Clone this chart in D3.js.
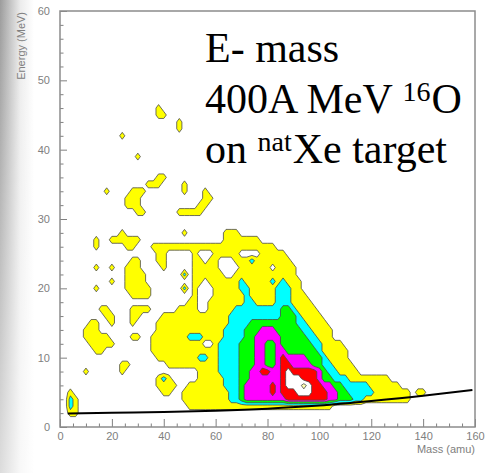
<!DOCTYPE html>
<html>
<head>
<meta charset="utf-8">
<script src="https://cdn.jsdelivr.net/npm/d3@7"></script>
<style>
  body { margin: 0; background: #fff; }
</style>
</head>
<body>
<div id="vis"></div>
<script>
// axis ticks
const massTicks = [0, 20, 40, 60, 80, 100, 120, 140, 160];
const energyTicks = [0, 10, 20, 30, 40, 50, 60];

// contour grid: one row per MeV (47 at the top down to 0),
// one column per 2 amu starting at 0. digit = contour level reached
// (0 none, 1 yellow, 2 cyan, 3 green, 4 magenta, 5 red, 6 white, 7 pale)
const gridTopE = 47;
const gridStepM = 2;
const gridRows = [
  "0",
  "0000000000 0000000001",
  "0000000000 0000000001 1",
  "0000000000 0000000000 0001",
  "0000000000 0000000000 0001",
  "0000000000 001",
  "0",
  "0",
  "0000000000 000001",
  "0",
  "0",
  "0000000000 0000000001 1",
  "0000000000 0000000111 00001",
  "0000000001 0000111000 0000100010",
  "0000000000 0001110000 0000000011",
  "0000000000 0001110000 0000000110",
  "0000000000 0000011000 0001111100",
  "0",
  "0",
  "0000000000 0010000000 0000100000 0011100000",
  "0000000100 1111110000 0000000000 0011111110",
  "0000000100 0001100011 1111111111 1111111111 11",
  "0000000000 0000000001 1000001000 1111100001 1111",
  "0000000000 0000110001 1000001101 1000111211 11111",
  "0000000100 1001110000 1000001111 1000011111 1011110000",
  "0000000000 0001111000 0000201111 1100111111 1111110000",
  "0000000000 1001111000 0000001101 1111121111 1212111000",
  "0000000100 0001111100 0000201000 1111122111 1122211000",
  "0000000000 0000111100 0000001000 1111112111 1122211100",
  "0000000000 0000000000 0000011001 1111112211 1122211110",
  "0000000011 0000111100 0001111001 1111222222 2223321111",
  "0000000001 1000110000 1111111111 1112222222 2223332111 1",
  "0000001100 1000100001 1111111111 1112222333 3333332211 11",
  "0000011100 0000000001 1111111111 1122223334 4433333221 111",
  "0000011111 0000110011 1111122211 1122223344 4443333322 111",
  "0000001111 1000000011 1111111100 1222233344 3343333332 21111",
  "0000000110 0000000011 1111111111 1222233344 3344333333 211111",
  "0000000000 0000000001 1111111221 1222233344 3345444433 321111",
  "0000000000 0011000000 0111111111 1222233344 3345544443 3221111",
  "0000010000 0010000000 0000000111 1222233445 5445655555 43221111",
  "0000000000 0000000001 2100000111 1122233444 4445666555 4332221111 1111",
  "0000000000 0000000001 1110011111 1122234444 4545666765 5443322222 111111",
  "0010000000 0000000000 1100111111 1112234444 4545556665 5544332222 2111111101 1",
  "0021000000 0000000000 0000111111 1112234444 4444555555 5544333221 11111111",
  "0021000000 0000000000 0000011111 1111111111 1111111111 111",
  "0011",
  "0",
  "0"
];

const levelColors = ["#ffff00", "#00ffff", "#00ff00", "#ff00ff", "#ff0000", "#ffffff", "#ffffb0"];

// threshold line along the bottom of the distribution
const curveMass = [3, 20, 40, 60, 80, 100, 120, 140, 159];
const curveEnergy = [1.95, 2.05, 2.15, 2.35, 2.65, 3.1, 3.75, 4.5, 5.35];

const width = 486, height = 473;
const svg = d3.select("#vis").append("svg")
    .attr("width", width)
    .attr("height", height);

const x = d3.scaleLinear().domain([0, 160]).range([60, 475]);
const y = d3.scaleLinear().domain([0, 60]).range([427, 11]);

// grey slide edge on the left
const defs = svg.append("defs");
const lg = defs.append("linearGradient").attr("id", "edge").attr("x1", 0).attr("x2", 1);
lg.append("stop").attr("offset", 0).attr("stop-color", "#9c9c9c");
lg.append("stop").attr("offset", 0.3).attr("stop-color", "#c4c4c4");
lg.append("stop").attr("offset", 0.6).attr("stop-color", "#ececec");
lg.append("stop").attr("offset", 1).attr("stop-color", "#ffffff");
const vg = defs.append("linearGradient").attr("id", "fade").attr("x1", 0).attr("x2", 0).attr("y1", 0).attr("y2", 1);
vg.append("stop").attr("offset", 0).attr("stop-color", "#fff").attr("stop-opacity", 0);
vg.append("stop").attr("offset", 1).attr("stop-color", "#fff").attr("stop-opacity", 0.65);
svg.append("rect").attr("x", 0).attr("y", 0).attr("width", 34).attr("height", height).attr("fill", "url(#edge)");
svg.append("rect").attr("x", 0).attr("y", 0).attr("width", 34).attr("height", height).attr("fill", "url(#fade)");

// contours
const cols = 81;
const grid = gridRows.map(function(r) { return r.replace(/ /g, "").padEnd(cols, "0"); });
const values = [];
grid.forEach(function(r) { for (const ch of r) values.push(+ch); });

const contours = d3.contours()
    .size([cols, grid.length])
    .thresholds(levelColors.map(function(c, i) { return i + 0.5; }))(values);

const toPlot = d3.geoTransform({
  point: function(px, py) {
    this.stream.point(x(gridStepM * (px - 0.5)), y(gridTopE - (py - 0.5)));
  }
});
const path = d3.geoPath(toPlot);

svg.append("g").selectAll("path")
    .data(contours)
    .join("path")
    .attr("d", path)
    .attr("fill", function(d, i) { return levelColors[i]; })
    .attr("stroke", "#4a4a4a")
    .attr("stroke-width", 0.8)
    .attr("stroke-linejoin", "round");

// threshold curve
const line = d3.line()
    .x(function(d) { return x(d[0]); })
    .y(function(d) { return y(d[1]); })
    .curve(d3.curveMonotoneX);
svg.append("path")
    .datum(curveMass.map(function(m, i) { return [m, curveEnergy[i]]; }))
    .attr("d", line)
    .attr("fill", "none")
    .attr("stroke", "#000")
    .attr("stroke-width", 2);

// axes
const axisColor = "#808080";
const labelFont = "'Liberation Sans', Arial, Helvetica, sans-serif";
const yMinor = d3.range(0, 61, 2).filter(function(v) { return v % 10; });
const xMinor = d3.range(0, 161, 5).filter(function(v) { return v % 20; });

function styleAxis(g) {
  g.select(".domain").remove();
  g.selectAll("line").attr("stroke", axisColor);
  g.selectAll("text").attr("fill", axisColor).attr("font-size", 11).attr("font-family", labelFont);
}

svg.append("g").attr("transform", "translate(60,0)")
    .call(d3.axisLeft(y).tickValues(yMinor).tickSize(-3.5).tickFormat(""))
    .call(styleAxis);
svg.append("g").attr("transform", "translate(60,0)")
    .call(d3.axisLeft(y).tickValues(energyTicks).tickSize(-7).tickPadding(10))
    .call(styleAxis);
svg.append("g").attr("transform", "translate(0,427)")
    .call(d3.axisBottom(x).tickValues(xMinor).tickSize(-3.5).tickFormat(""))
    .call(styleAxis);
svg.append("g").attr("transform", "translate(0,427)")
    .call(d3.axisBottom(x).tickValues(massTicks).tickSize(-8).tickPadding(5))
    .call(styleAxis);

svg.append("rect")
    .attr("x", x(0)).attr("y", y(60))
    .attr("width", x(160) - x(0)).attr("height", y(0) - y(60))
    .attr("fill", "none")
    .attr("stroke", "#8c8c8c")
    .attr("stroke-width", 1.5);

svg.append("text")
    .attr("transform", "translate(25,12) rotate(-90)")
    .attr("text-anchor", "end")
    .attr("font-family", labelFont)
    .attr("font-size", 11)
    .attr("fill", axisColor)
    .text("Energy (MeV)");

svg.append("text")
    .attr("x", 475).attr("y", 453)
    .attr("text-anchor", "end")
    .attr("font-family", labelFont)
    .attr("font-size", 11)
    .attr("fill", axisColor)
    .text("Mass (amu)");

// title block
const serif = "'Liberation Serif', 'Times New Roman', serif";
function titleLine(yy) {
  return svg.append("text").attr("x", 205).attr("y", yy)
      .attr("font-family", serif).attr("font-size", 42).attr("fill", "#000");
}
titleLine(62).text("E- mass");
const t2 = titleLine(113);
t2.append("tspan").text("400A MeV ");
t2.append("tspan").attr("font-size", 28).attr("dy", -12).text("16");
t2.append("tspan").attr("dy", 12).attr("dx", 1).text("O");
const t3 = titleLine(163);
t3.append("tspan").text("on ");
t3.append("tspan").attr("font-size", 28).attr("dy", -12).text("nat");
t3.append("tspan").attr("dy", 12).attr("dx", 1).text("Xe target");
</script>
</body>
</html>
